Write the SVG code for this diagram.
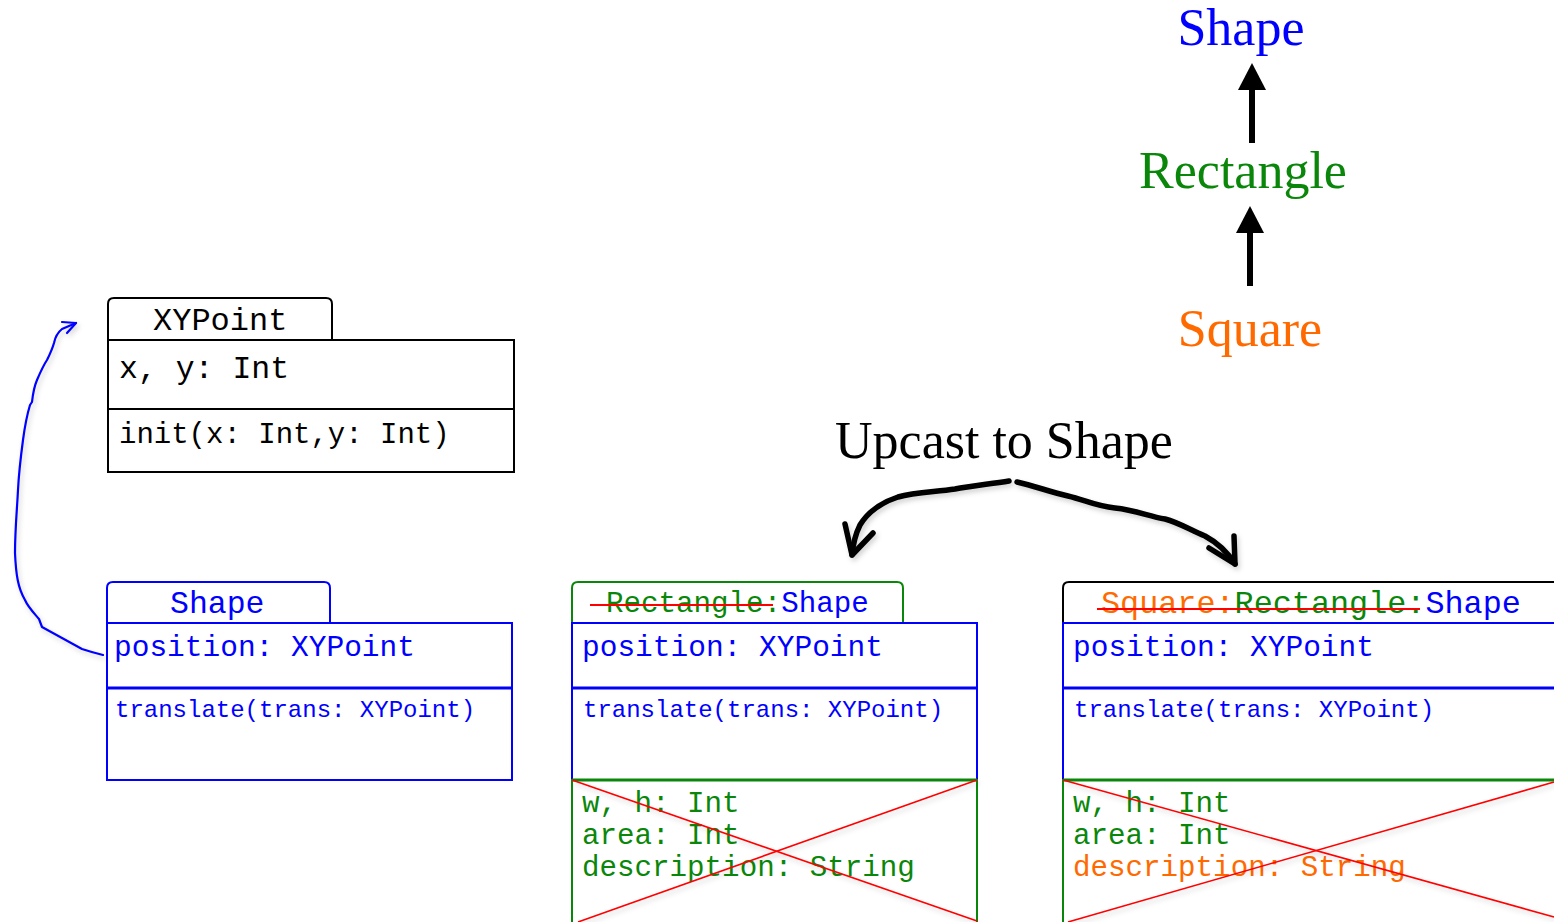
<svg xmlns="http://www.w3.org/2000/svg" width="1554" height="922" viewBox="0 0 1554 922">
  <defs>
    <style>
      .mono { font-family: "Liberation Mono", "Courier New", monospace; }
      .serif { font-family: "Liberation Serif", "Times New Roman", serif; font-size: 52px; }
      .blue { fill: #0000ff; }
      .green { fill: #0a870a; }
      .orange { fill: #ff6a00; }
      .black { fill: #000000; }
      .box { fill: #ffffff; stroke-width: 2; }
      .ink { fill: none; stroke-linecap: round; stroke-linejoin: round; }
      .cross { stroke: #ff0000; stroke-width: 1.6; fill: none; }
      .strike { stroke: #ff0000; stroke-width: 2; }
      .field { font-size: 29.2px; }
    </style>
    <filter id="soft" x="-20%" y="-20%" width="140%" height="140%">
      <feDropShadow dx="2" dy="3" stdDeviation="2.5" flood-color="#000000" flood-opacity="0.18"/>
    </filter>
  </defs>

  <rect width="1554" height="922" fill="#ffffff"/>

  <!-- class hierarchy -->
  <g id="hier-shape">
    <text x="1241" y="45" class="serif blue" text-anchor="middle">Shape</text>
  </g>
  <g id="hier-rectangle">
    <text x="1243" y="188" class="serif green" text-anchor="middle">Rectangle</text>
  </g>
  <g id="hier-square">
    <text x="1250" y="346" class="serif orange" text-anchor="middle">Square</text>
  </g>

  <!-- XYPoint class -->
  <g id="xypoint">
    <path d="M108,340 V304 Q108,298 114,298 H326 Q332,298 332,304 V340" class="box" stroke="#000000"/>
    <rect x="108" y="340" width="406" height="132" class="box" stroke="#000000"/>
    <line x1="108" y1="409" x2="514" y2="409" stroke="#000000" stroke-width="2"/>
    <text x="153" y="330" class="mono black" font-size="32">XYPoint</text>
    <text x="119" y="378" class="mono black" font-size="31.5">x, y: Int</text>
    <text x="119" y="443" class="mono black" font-size="29">init(x: Int,y: Int)</text>
  </g>

  <!-- Shape class -->
  <g id="shape">
    <path d="M107,623 V588 Q107,582 113,582 H324 Q330,582 330,588 V623" class="box" stroke="#0000ff"/>
    <rect x="107" y="623" width="405" height="157" class="box" stroke="#0000ff"/>
    <line x1="107" y1="688" x2="512" y2="688" stroke="#0000ff" stroke-width="3"/>
    <text x="170" y="613" class="mono blue" font-size="31.5">Shape</text>
    <text x="114" y="656" class="mono blue" font-size="29.5">position: XYPoint</text>
    <text x="115" y="717" class="mono blue" font-size="24">translate(trans: XYPoint)</text>
  </g>

  <!-- Rectangle instance seen as Shape -->
  <g id="rectangle-as-shape">
    <path d="M572,623 V588 Q572,582 578,582 H897 Q903,582 903,588 V623" class="box" stroke="#0a870a"/>
    <rect x="572" y="623" width="405" height="157" class="box" stroke="#0000ff"/>
    <line x1="572" y1="688" x2="977" y2="688" stroke="#0000ff" stroke-width="3"/>
    <rect x="572" y="780" width="405" height="160" class="box" stroke="#0a870a"/>
    <line x1="572" y1="780" x2="977" y2="780" stroke="#0a870a" stroke-width="3"/>
    <text x="606" y="612" class="mono" font-size="29.2"><tspan class="green">Rectangle:</tspan><tspan class="blue">Shape</tspan></text>
    <line x1="590" y1="605" x2="773" y2="605" class="strike"/>
    <text x="582" y="656" class="mono blue" font-size="29.5">position: XYPoint</text>
    <text x="583" y="717" class="mono blue" font-size="24">translate(trans: XYPoint)</text>
    <text x="582" y="812" class="mono green field">w, h: Int</text>
    <text x="582" y="844" class="mono green field">area: Int</text>
    <text x="582" y="876" class="mono green field">description: String</text>
    <g filter="url(#soft)">
      <line x1="572" y1="780" x2="977" y2="921" class="cross"/>
      <line x1="977" y1="780" x2="578" y2="922" class="cross"/>
    </g>
  </g>

  <!-- Square instance seen as Shape -->
  <g id="square-as-shape">
    <path d="M1063,623 V588 Q1063,582 1069,582 H1600" class="box" stroke="#000000"/>
    <rect x="1063" y="623" width="520" height="157" class="box" stroke="#0000ff"/>
    <line x1="1063" y1="688" x2="1583" y2="688" stroke="#0000ff" stroke-width="3"/>
    <rect x="1063" y="780" width="520" height="160" class="box" stroke="#0a870a"/>
    <line x1="1063" y1="780" x2="1583" y2="780" stroke="#0a870a" stroke-width="3"/>
    <text x="1101" y="613" class="mono" font-size="31.8"><tspan class="orange">Square:</tspan><tspan class="green">Rectangle:</tspan><tspan class="blue">Shape</tspan></text>
    <line x1="1097" y1="609" x2="1420" y2="609" class="strike"/>
    <text x="1073" y="656" class="mono blue" font-size="29.5">position: XYPoint</text>
    <text x="1074" y="717" class="mono blue" font-size="24">translate(trans: XYPoint)</text>
    <text x="1073" y="812" class="mono green field">w, h: Int</text>
    <text x="1073" y="844" class="mono green field">area: Int</text>
    <text x="1073" y="876" class="mono orange field">description: String</text>
    <g filter="url(#soft)">
      <line x1="1063" y1="780" x2="1554" y2="917" class="cross"/>
      <line x1="1554" y1="782" x2="1068" y2="922" class="cross"/>
    </g>
  </g>

  <!-- caption -->
  <g id="upcast-label">
    <text x="835" y="458" class="serif black">Upcast to Shape</text>
  </g>

  <!-- connectors -->
  <g id="connectors">
    <!-- inheritance arrows -->
    <line x1="1252" y1="143" x2="1252" y2="86" stroke="#000000" stroke-width="6"/>
    <polygon points="1252,63 1266,90 1238,90" fill="#000000"/>
    <line x1="1250" y1="286" x2="1250" y2="229" stroke="#000000" stroke-width="6"/>
    <polygon points="1250,206 1264,233 1236,233" fill="#000000"/>

    <!-- hand-drawn upcast arrows -->
    <g filter="url(#soft)" stroke="#000000" stroke-width="5.5" class="ink">
      <path d="M1009,481 C990,484 970,486 955,489 C935,492 915,492 898,497 C880,503 868,512 860,525 C855,535 853,545 852,555"/>
      <path d="M845,524 L852,555 L873,533"/>
      <path d="M1017,482 C1035,486 1050,492 1068,496 C1085,500 1095,506 1115,508 C1135,510 1148,516 1165,519 C1180,523 1190,530 1205,536 C1218,543 1228,553 1235,564"/>
      <path d="M1234,536 L1235,564 L1209,548"/>
    </g>

    <!-- position: XYPoint reference -->
    <g filter="url(#soft)" stroke="#0000ff" stroke-width="2.2" class="ink">
      <path d="M103,655 C95,653 88,651 82,649 L42,627 L39,619 C33,612 28,607 25,600 C18,588 16,575 15,553 C15,530 17,510 18,490 C19,470 21,455 23,440 C25,425 27,415 30,405 L32,402 C33,393 34,387 37,380 C40,373 43,366 47,360 C50,354 52,350 54,343 C55,338 57,333 62,329 L76,323"/>
      <path d="M62,322 L76,323 L67,333"/>
    </g>
  </g>
</svg>
